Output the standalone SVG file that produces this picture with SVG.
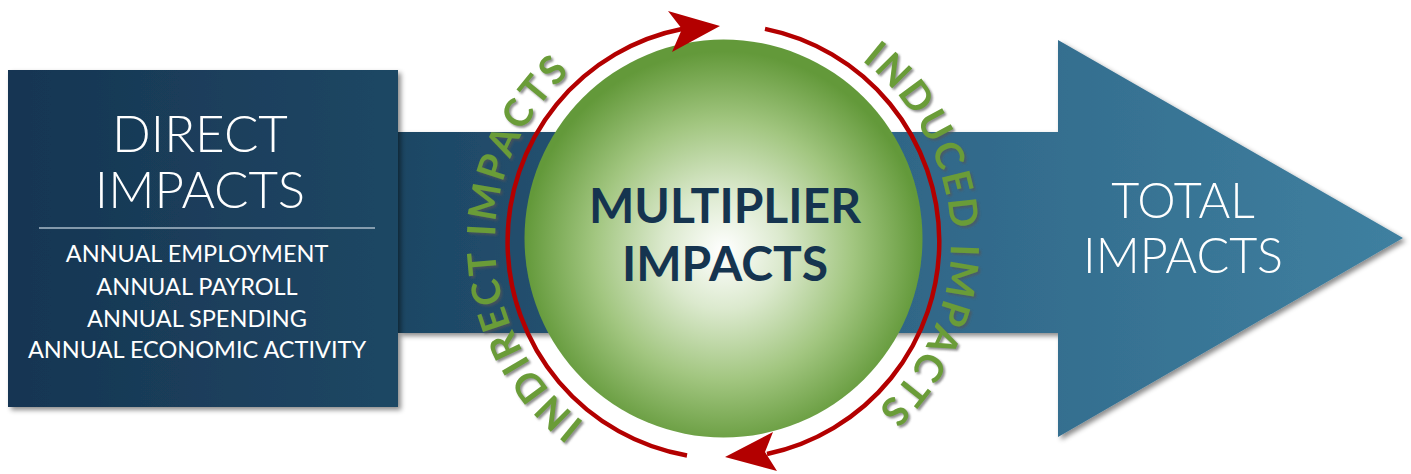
<svg xmlns="http://www.w3.org/2000/svg" width="1411" height="474" viewBox="0 0 1411 474">
  <defs>
    <linearGradient id="gBox" gradientUnits="userSpaceOnUse" x1="8" y1="0" x2="398" y2="0">
      <stop offset="0" stop-color="#163552"/>
      <stop offset="1" stop-color="#1f4764"/>
    </linearGradient>
    <linearGradient id="gArrow" gradientUnits="userSpaceOnUse" x1="398" y1="0" x2="1403" y2="0">
      <stop offset="0" stop-color="#1d4664"/>
      <stop offset="0.55" stop-color="#31698a"/>
      <stop offset="1" stop-color="#3f80a0"/>
    </linearGradient>
    <radialGradient id="gSphere" cx="0.5" cy="0.53" r="0.5">
      <stop offset="0" stop-color="#ffffff"/>
      <stop offset="0.3" stop-color="#dbe9cd"/>
      <stop offset="0.65" stop-color="#a2c680"/>
      <stop offset="1" stop-color="#63993a"/>
    </radialGradient>
    <filter id="fShadow" x="-10%" y="-10%" width="125%" height="125%">
      <feDropShadow dx="3" dy="3" stdDeviation="2.5" flood-color="#000" flood-opacity="0.45"/>
    </filter>
    <filter id="fTextShadow" x="-10%" y="-10%" width="120%" height="120%">
      <feDropShadow dx="2" dy="2" stdDeviation="1" flood-color="#555" flood-opacity="0.65"/>
    </filter>
    <path id="arcLeft" d="M 723 469.5 A 228 228 0 0 1 723 13.5"/>
    <path id="arcRight" d="M 723 13.5 A 228 228 0 0 1 723 469.5"/>
  </defs>
  <style>
    .white { fill: #ffffff; font-family: Lato, "Liberation Sans", sans-serif; text-anchor: middle; }
    .title { font-size: 51px; font-weight: 300; }
    .sub { font-size: 23.5px; font-weight: 400; }
    .total { font-size: 48.5px; font-weight: 300; }
    .mult { fill: #15344f; font-family: Lato, "Liberation Sans", sans-serif; font-size: 48px; font-weight: 700; text-anchor: middle; }
    .ring { fill: #6a9c38; font-family: Lato, "Liberation Sans", sans-serif; font-size: 39px; font-weight: 700; letter-spacing: 3px; text-anchor: middle; }
    .cyc { fill: none; stroke: #b30000; stroke-width: 4.5; }
    .head { fill: #b30000; }
  </style>

  <g id="total-impacts">
    <polygon points="398,132 1058,132 1058,40 1403,238 1058,437 1058,333 398,333" fill="url(#gArrow)" filter="url(#fShadow)"/>
    <text class="white total" x="1183" y="218">TOTAL</text>
    <text class="white total" x="1183" y="273">IMPACTS</text>
  </g>

  <g id="direct-impacts">
    <rect x="8" y="70" width="390" height="337" fill="url(#gBox)" filter="url(#fShadow)"/>
    <text class="white title" x="200" y="152">DIRECT</text>
    <text class="white title" x="200" y="208">IMPACTS</text>
    <line x1="39" y1="228" x2="375" y2="228" stroke="#a9bac8" stroke-width="1.5"/>
    <text class="white sub" x="197" y="262">ANNUAL EMPLOYMENT</text>
    <text class="white sub" x="197" y="295">ANNUAL PAYROLL</text>
    <text class="white sub" x="197" y="327">ANNUAL SPENDING</text>
    <text class="white sub" x="197" y="358">ANNUAL ECONOMIC ACTIVITY</text>
  </g>

  <g id="multiplier-impacts">
    <circle cx="723.5" cy="238.5" r="199" fill="url(#gSphere)"/>
    <text class="mult" x="725" y="223">MULTIPLIER</text>
    <text class="mult" x="725" y="281">IMPACTS</text>
  </g>

  <g id="connectors">
    <path class="cyc" d="M 687 455.5 A 217 217 0 0 1 683 28.8"/>
    <polygon class="head" points="720,26 668,11 682,29 672,52"/>
    <path class="cyc" d="M 765 28.9 A 217 217 0 0 1 767 454"/>
    <polygon class="head" points="725,457 773,432 765,452 777,471"/>
  </g>

  <g id="indirect-impacts" filter="url(#fTextShadow)">
    <text class="ring"><textPath href="#arcLeft" startOffset="350">INDIRECT IMPACTS</textPath></text>
  </g>
  <g id="induced-impacts" filter="url(#fTextShadow)">
    <text class="ring"><textPath href="#arcRight" startOffset="349">INDUCED IMPACTS</textPath></text>
  </g>
</svg>
